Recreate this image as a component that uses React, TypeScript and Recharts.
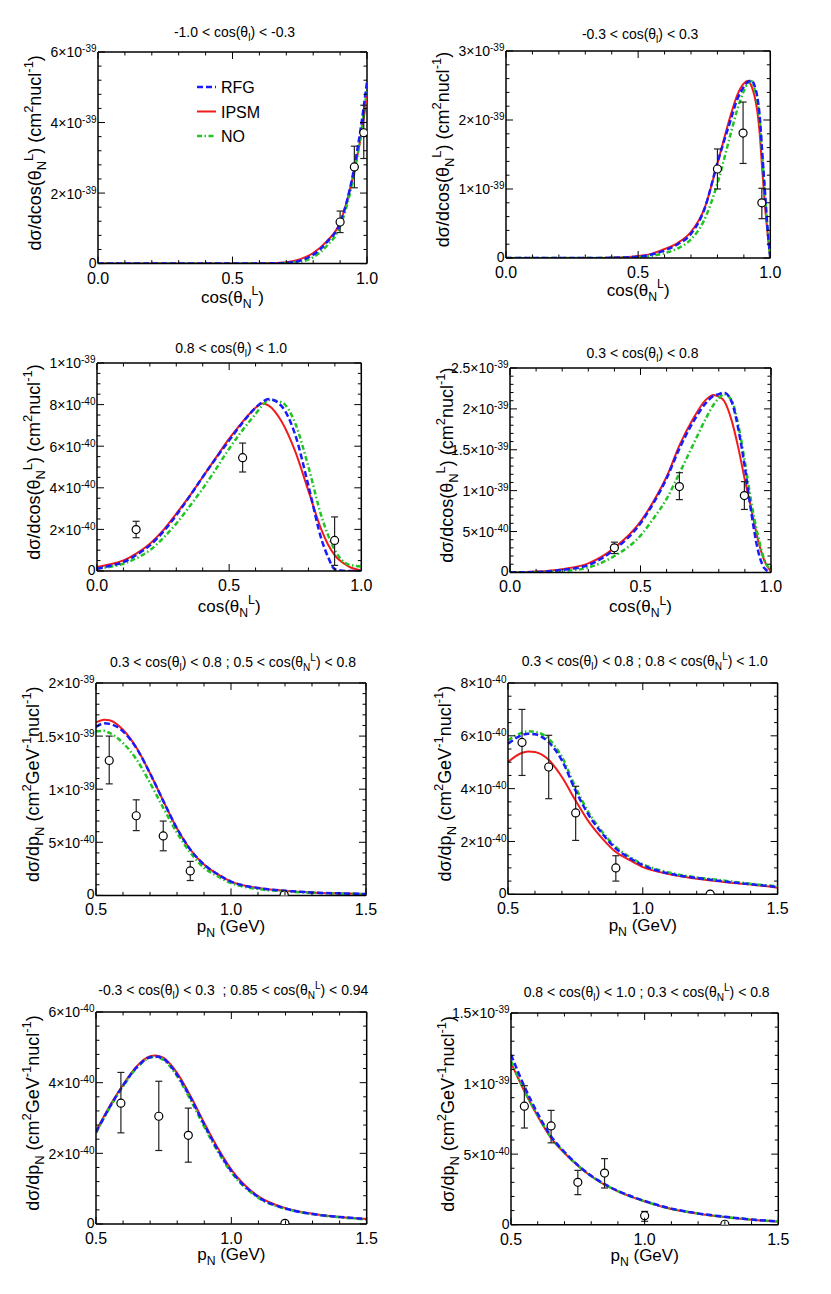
import React from 'react';
import { ComposedChart, Line, Scatter, XAxis, YAxis, ErrorBar, Legend, Label, ReferenceLine } from 'recharts';

const FONT = '"Liberation Sans", Arial, Helvetica, sans-serif';

type Seg = { t: string; k?: 'sub' | 'sup' };

// ---------- series styles ----------
const SERIES: Record<string, { name: string; color: string; w: number; dash?: string }> = {
  rfg: { name: 'RFG', color: '#1a1aff', w: 2.5, dash: '6 3' },
  ipsm: { name: 'IPSM', color: '#f01c1c', w: 2, dash: undefined },
  no: { name: 'NO', color: '#22c422', w: 2.5, dash: '5 2.5 1.5 2.5' },
};
const LEGEND_ORDER = ['rfg', 'ipsm', 'no'];

// ---------- shared tick labels ----------
const cosXTicks = [0, 0.5, 1.0];
const cosXLabels = ['0.0', '0.5', '1.0'];
const pXTicks = [0.5, 1.0, 1.5];
const pXLabels = ['0.5', '1.0', '1.5'];

// ---------- Panel 1: -1.0 < cos(theta_l) < -0.3 (units 1e-39) ----------
const p1Grid = [0, 0.1, 0.2, 0.3, 0.4, 0.5, 0.6, 0.65, 0.7, 0.75, 0.8, 0.85, 0.9, 0.95, 0.975, 1.0];
const p1RFG = [0, 0, 0, 0, 0, 0, 0.003, 0.008, 0.02, 0.08, 0.25, 0.6, 1.15, 2.62, 3.75, 5.15];
const p1IPSM = [0, 0, 0, 0, 0, 0.001, 0.005, 0.015, 0.04, 0.12, 0.3, 0.63, 1.17, 2.55, 3.5, 4.75];
const p1NO = [0, 0, 0, 0, 0, 0, 0.002, 0.005, 0.012, 0.05, 0.18, 0.5, 1.05, 2.47, 3.55, 4.98];
const p1PtX = [0.9, 0.953, 0.988];
const p1PtY = [1.18, 2.74, 3.71];
const p1PtLo = [0.88, 2.15, 2.98];
const p1PtHi = [1.49, 3.33, 4.49];
const p1YTicks = [0, 2, 4, 6];
const p1YLabels = [['0', ''], ['2×10', '-39'], ['4×10', '-39'], ['6×10', '-39']];

// ---------- Panel 2: -0.3 < cos(theta_l) < 0.3 (units 1e-39) ----------
const p2Grid = [0, 0.1, 0.2, 0.3, 0.4, 0.45, 0.5, 0.55, 0.6, 0.65, 0.7, 0.75, 0.8, 0.85, 0.875, 0.9, 0.915, 0.93, 0.94, 0.95, 0.96, 0.97, 0.98, 0.99, 1.0];
const p2RFG = [0, 0, 0, 0, 0.003, 0.008, 0.02, 0.05, 0.11, 0.2, 0.35, 0.7, 1.38, 2.0, 2.3, 2.48, 2.55, 2.57, 2.5, 2.35, 2.05, 1.5, 0.95, 0.4, 0];
const p2IPSM = [0, 0, 0, 0, 0.005, 0.012, 0.03, 0.06, 0.13, 0.22, 0.38, 0.71, 1.37, 2.07, 2.36, 2.53, 2.57, 2.48, 2.35, 2.15, 1.8, 1.25, 0.75, 0.35, 0];
const p2NO = [0, 0, 0, 0, 0.002, 0.005, 0.012, 0.03, 0.07, 0.14, 0.27, 0.55, 1.08, 1.8, 2.15, 2.42, 2.53, 2.56, 2.45, 2.3, 2.0, 1.45, 0.9, 0.4, 0];
const p2PtX = [0.8, 0.897, 0.968];
const p2PtY = [1.29, 1.81, 0.8];
const p2PtLo = [1.0, 1.37, 0.57];
const p2PtHi = [1.58, 2.26, 1.01];
const p2YTicks = [0, 1, 2, 3];
const p2YLabels = [['0', ''], ['1×10', '-39'], ['2×10', '-39'], ['3×10', '-39']];

// ---------- Panel 3: 0.8 < cos(theta_l) < 1.0 (units 1e-40) ----------
const p3Grid = [0, 0.05, 0.1, 0.15, 0.2, 0.25, 0.3, 0.35, 0.4, 0.45, 0.5, 0.55, 0.6, 0.625, 0.65, 0.7, 0.75, 0.8, 0.85, 0.875, 0.9, 0.95, 1.0];
const p3RFG = [0.11, 0.25, 0.43, 0.78, 1.23, 1.88, 2.68, 3.58, 4.52, 5.42, 6.28, 7.12, 7.85, 8.12, 8.27, 7.9, 6.55, 4.1, 1.5, 0.65, 0.08, 0, 0];
const p3IPSM = [0.19, 0.32, 0.51, 0.85, 1.31, 1.95, 2.76, 3.6, 4.52, 5.45, 6.36, 7.16, 7.85, 8.05, 7.95, 7.15, 5.75, 3.85, 1.95, 1.25, 0.75, 0.24, 0.03];
const p3NO = [0.11, 0.2, 0.35, 0.62, 1.0, 1.58, 2.28, 3.1, 3.96, 4.9, 5.88, 6.76, 7.55, 7.95, 8.22, 8.1, 7.1, 5.0, 2.6, 1.7, 1.0, 0.32, 0.22];
const p3PtX = [0.148, 0.551, 0.899];
const p3PtY = [1.99, 5.45, 1.47];
const p3PtLo = [1.6, 4.76, 0.27];
const p3PtHi = [2.39, 6.15, 2.6];
const p3YTicks = [0, 2, 4, 6, 8, 10];
const p3YLabels = [['0', ''], ['2×10', '-40'], ['4×10', '-40'], ['6×10', '-40'], ['8×10', '-40'], ['1×10', '-39']];

// ---------- Panel 4: 0.3 < cos(theta_l) < 0.8 (units 1e-39) ----------
const p4Grid = [0, 0.1, 0.2, 0.3, 0.4, 0.5, 0.55, 0.6, 0.65, 0.7, 0.75, 0.78, 0.8, 0.82, 0.85, 0.875, 0.9, 0.925, 0.95, 0.975, 1.0];
const p4RFG = [0, 0.005, 0.03, 0.09, 0.28, 0.6, 0.85, 1.15, 1.52, 1.83, 2.07, 2.16, 2.18, 2.2, 2.08, 1.75, 1.28, 0.72, 0.27, 0.05, 0];
const p4IPSM = [0, 0.01, 0.04, 0.11, 0.3, 0.62, 0.87, 1.17, 1.56, 1.87, 2.11, 2.17, 2.15, 2.1, 1.85, 1.52, 1.13, 0.77, 0.4, 0.14, 0.01];
const p4NO = [0, 0.003, 0.015, 0.06, 0.2, 0.45, 0.66, 0.9, 1.22, 1.55, 1.88, 2.05, 2.13, 2.18, 2.1, 1.8, 1.35, 0.85, 0.45, 0.15, 0.03];
const p4PtX = [0.4, 0.649, 0.898];
const p4PtY = [0.3, 1.05, 0.94];
const p4PtLo = [0.23, 0.89, 0.77];
const p4PtHi = [0.37, 1.22, 1.11];
const p4YTicks = [0, 0.5, 1, 1.5, 2, 2.5];
const p4YLabels = [['0', ''], ['5×10', '-40'], ['1×10', '-39'], ['1.5×10', '-39'], ['2×10', '-39'], ['2.5×10', '-39']];

// ---------- Panel 5: p_N, 0.3<cos(theta_l)<0.8 ; 0.5<cos(theta_N^L)<0.8 (units 1e-39) ----------
const p5Grid = [0.5, 0.53, 0.55, 0.6, 0.65, 0.7, 0.75, 0.8, 0.85, 0.9, 0.95, 1.0, 1.1, 1.2, 1.3, 1.4, 1.5];
const p5RFG = [1.585, 1.62, 1.615, 1.545, 1.385, 1.15, 0.885, 0.63, 0.43, 0.29, 0.2, 0.13, 0.07, 0.044, 0.028, 0.019, 0.013];
const p5IPSM = [1.63, 1.655, 1.65, 1.56, 1.39, 1.15, 0.885, 0.63, 0.43, 0.29, 0.2, 0.13, 0.07, 0.044, 0.028, 0.019, 0.013];
const p5NO = [1.545, 1.55, 1.53, 1.435, 1.28, 1.06, 0.82, 0.59, 0.4, 0.26, 0.18, 0.116, 0.06, 0.038, 0.025, 0.017, 0.013];
const p5PtX = [0.549, 0.649, 0.749, 0.849, 1.197];
const p5PtY = [1.27, 0.75, 0.56, 0.23, 0.005];
const p5PtLo = [1.05, 0.61, 0.42, 0.14, 0.0];
const p5PtHi = [1.5, 0.9, 0.7, 0.32, 0.01];
const p5YTicks = [0, 0.5, 1, 1.5, 2];
const p5YLabels = [['0', ''], ['5×10', '-40'], ['1×10', '-39'], ['1.5×10', '-39'], ['2×10', '-39']];

// ---------- Panel 6: p_N, 0.3<cos(theta_l)<0.8 ; 0.8<cos(theta_N^L)<1.0 (units 1e-40) ----------
const p6Grid = [0.5, 0.55, 0.575, 0.6, 0.65, 0.7, 0.75, 0.8, 0.85, 0.9, 0.95, 1.0, 1.1, 1.2, 1.3, 1.4, 1.5];
const p6RFG = [5.7, 6.02, 6.08, 6.06, 5.77, 5.07, 3.94, 2.99, 2.3, 1.73, 1.38, 1.1, 0.78, 0.62, 0.49, 0.38, 0.28];
const p6IPSM = [5.01, 5.35, 5.41, 5.39, 5.1, 4.44, 3.56, 2.74, 2.11, 1.6, 1.3, 1.03, 0.76, 0.59, 0.47, 0.37, 0.25];
const p6NO = [5.83, 6.11, 6.17, 6.15, 5.89, 5.2, 4.06, 3.08, 2.36, 1.79, 1.42, 1.14, 0.82, 0.64, 0.52, 0.4, 0.3];
const p6PtX = [0.552, 0.651, 0.751, 0.9, 1.25];
const p6PtY = [5.75, 4.82, 3.08, 1.0, 0.01];
const p6PtLo = [4.5, 3.62, 2.04, 0.5, 0.0];
const p6PtHi = [7.0, 6.02, 4.09, 1.46, 0.03];
const p6YTicks = [0, 2, 4, 6, 8];
const p6YLabels = [['0', ''], ['2×10', '-40'], ['4×10', '-40'], ['6×10', '-40'], ['8×10', '-40']];

// ---------- Panel 7: p_N, -0.3<cos(theta_l)<0.3 ; 0.85<cos(theta_N^L)<0.94 (units 1e-40) ----------
const p7Grid = [0.5, 0.55, 0.6, 0.65, 0.7, 0.72, 0.75, 0.8, 0.85, 0.9, 0.95, 1.0, 1.1, 1.2, 1.3, 1.4, 1.5];
const p7RFG = [2.6, 3.3, 3.92, 4.43, 4.72, 4.74, 4.67, 4.22, 3.56, 2.81, 2.1, 1.5, 0.76, 0.44, 0.28, 0.2, 0.14];
const p7IPSM = [2.62, 3.33, 3.94, 4.46, 4.75, 4.77, 4.7, 4.27, 3.61, 2.86, 2.15, 1.54, 0.78, 0.45, 0.29, 0.2, 0.14];
const p7NO = [2.58, 3.28, 3.9, 4.41, 4.71, 4.73, 4.64, 4.18, 3.5, 2.75, 2.05, 1.46, 0.74, 0.43, 0.28, 0.19, 0.13];
const p7PtX = [0.592, 0.732, 0.841, 1.198];
const p7PtY = [3.42, 3.05, 2.51, 0.02];
const p7PtLo = [2.58, 2.08, 1.75, 0.0];
const p7PtHi = [4.29, 4.04, 3.28, 0.04];
const p7YTicks = [0, 2, 4, 6];
const p7YLabels = [['0', ''], ['2×10', '-40'], ['4×10', '-40'], ['6×10', '-40']];

// ---------- Panel 8: p_N, 0.8<cos(theta_l)<1.0 ; 0.3<cos(theta_N^L)<0.8 (units 1e-39) ----------
const p8Grid = [0.5, 0.55, 0.6, 0.65, 0.7, 0.75, 0.8, 0.85, 0.9, 1.0, 1.1, 1.2, 1.3, 1.4, 1.5];
const p8RFG = [1.205, 0.98, 0.787, 0.626, 0.515, 0.422, 0.347, 0.287, 0.24, 0.168, 0.114, 0.08, 0.056, 0.037, 0.023];
const p8IPSM = [1.146, 0.945, 0.768, 0.614, 0.508, 0.418, 0.343, 0.283, 0.236, 0.165, 0.111, 0.078, 0.054, 0.035, 0.021];
const p8NO = [1.158, 0.952, 0.772, 0.618, 0.51, 0.42, 0.345, 0.285, 0.238, 0.166, 0.112, 0.079, 0.055, 0.036, 0.022];
const p8PtX = [0.55, 0.65, 0.75, 0.85, 1.0, 1.3];
const p8PtY = [0.84, 0.7, 0.3, 0.366, 0.064, 0.003];
const p8PtLo = [0.685, 0.58, 0.213, 0.26, 0.024, 0.0];
const p8PtHi = [0.985, 0.81, 0.385, 0.468, 0.094, 0.006];
const p8YTicks = [0, 0.5, 1, 1.5];
const p8YLabels = [['0', ''], ['5×10', '-40'], ['1×10', '-39'], ['1.5×10', '-39']];

// ---------- texts ----------
const subL: Seg[] = [{ t: 'l', k: 'sub' }];
const NL: Seg[] = [{ t: 'N', k: 'sub' }, { t: 'L', k: 'sup' }];
const cosYLab: Seg[] = [{ t: 'dσ/dcos(θ' }, ...NL, { t: ') (cm' }, { t: '2', k: 'sup' }, { t: 'nucl' }, { t: '-1', k: 'sup' }, { t: ')' }];
const pYLab: Seg[] = [{ t: 'dσ/dp' }, { t: 'N', k: 'sub' }, { t: ' (cm' }, { t: '2', k: 'sup' }, { t: 'GeV' }, { t: '-1', k: 'sup' }, { t: 'nucl' }, { t: '-1', k: 'sup' }, { t: ')' }];
const cosXLab: Seg[] = [{ t: 'cos(θ' }, ...NL, { t: ')' }];
const pXLab: Seg[] = [{ t: 'p' }, { t: 'N', k: 'sub' }, { t: ' (GeV)' }];

const t1: Seg[] = [{ t: '-1.0 < cos(θ' }, ...subL, { t: ') < -0.3' }];
const t2: Seg[] = [{ t: '-0.3 < cos(θ' }, ...subL, { t: ') < 0.3' }];
const t3: Seg[] = [{ t: '0.8 < cos(θ' }, ...subL, { t: ') < 1.0' }];
const t4: Seg[] = [{ t: '0.3 < cos(θ' }, ...subL, { t: ') < 0.8' }];
const t5: Seg[] = [{ t: '0.3 < cos(θ' }, ...subL, { t: ') < 0.8 ; 0.5 < cos(θ' }, ...NL, { t: ') < 0.8' }];
const t6: Seg[] = [{ t: '0.3 < cos(θ' }, ...subL, { t: ') < 0.8 ; 0.8 < cos(θ' }, ...NL, { t: ') < 1.0' }];
const t7: Seg[] = [{ t: '-0.3 < cos(θ' }, ...subL, { t: ') < 0.3  ; 0.85 < cos(θ' }, ...NL, { t: ') < 0.94' }];
const t8: Seg[] = [{ t: '0.8 < cos(θ' }, ...subL, { t: ') < 1.0 ; 0.3 < cos(θ' }, ...NL, { t: ') < 0.8' }];

// ---------- layout ----------
const ML = 80, MT = 45, MR = 20, MB = 55;

type PanelCfg = {
  box: [number, number, number, number]; // left, top, right, bottom of plot area on page
  xDomain: [number, number]; xTicks: number[]; xLabels: string[];
  yMax: number; yTicks: number[]; yLabels: string[][]; yMinor: number;
  grid: number[]; rfg: number[]; ipsm: number[]; no: number[];
  ptX: number[]; ptY: number[]; ptLo: number[]; ptHi: number[];
  title: Seg[]; titleGap: number; xLab: Seg[]; xLabGap: number; yLab: Seg[];
  legend?: boolean;
};

const PANELS: PanelCfg[] = [
  { box: [97.7, 51.7, 366.7, 263.3], xDomain: [0, 1], xTicks: cosXTicks, xLabels: cosXLabels, yMax: 6, yTicks: p1YTicks, yLabels: p1YLabels, yMinor: 0.4,
    grid: p1Grid, rfg: p1RFG, ipsm: p1IPSM, no: p1NO, ptX: p1PtX, ptY: p1PtY, ptLo: p1PtLo, ptHi: p1PtHi, title: t1, titleGap: 15, xLab: cosXLab, xLabGap: 39, yLab: cosYLab, legend: true },
  { box: [505.7, 50.7, 770, 257.7], xDomain: [0, 1], xTicks: cosXTicks, xLabels: cosXLabels, yMax: 3, yTicks: p2YTicks, yLabels: p2YLabels, yMinor: 0.2,
    grid: p2Grid, rfg: p2RFG, ipsm: p2IPSM, no: p2NO, ptX: p2PtX, ptY: p2PtY, ptLo: p2PtLo, ptHi: p2PtHi, title: t2, titleGap: 12, xLab: cosXLab, xLabGap: 38, yLab: cosYLab },
  { box: [96.7, 362.7, 361, 570.7], xDomain: [0, 1], xTicks: cosXTicks, xLabels: cosXLabels, yMax: 10, yTicks: p3YTicks, yLabels: p3YLabels, yMinor: 0.5,
    grid: p3Grid, rfg: p3RFG, ipsm: p3IPSM, no: p3NO, ptX: p3PtX, ptY: p3PtY, ptLo: p3PtLo, ptHi: p3PtHi, title: t3, titleGap: 10, xLab: cosXLab, xLabGap: 41, yLab: cosYLab },
  { box: [510, 368.3, 771, 572.7], xDomain: [0, 1], xTicks: cosXTicks, xLabels: cosXLabels, yMax: 2.5, yTicks: p4YTicks, yLabels: p4YLabels, yMinor: 0.1,
    grid: p4Grid, rfg: p4RFG, ipsm: p4IPSM, no: p4NO, ptX: p4PtX, ptY: p4PtY, ptLo: p4PtLo, ptHi: p4PtHi, title: t4, titleGap: 10, xLab: cosXLab, xLabGap: 40, yLab: cosYLab },
  { box: [95.7, 683.3, 365.7, 895.7], xDomain: [0.5, 1.5], xTicks: pXTicks, xLabels: pXLabels, yMax: 2, yTicks: p5YTicks, yLabels: p5YLabels, yMinor: 0.1,
    grid: p5Grid, rfg: p5RFG, ipsm: p5IPSM, no: p5NO, ptX: p5PtX, ptY: p5PtY, ptLo: p5PtLo, ptHi: p5PtHi, title: t5, titleGap: 16, xLab: pXLab, xLabGap: 37, yLab: pYLab },
  { box: [507.7, 682.7, 777.3, 894], xDomain: [0.5, 1.5], xTicks: pXTicks, xLabels: pXLabels, yMax: 8, yTicks: p6YTicks, yLabels: p6YLabels, yMinor: 0.5,
    grid: p6Grid, rfg: p6RFG, ipsm: p6IPSM, no: p6NO, ptX: p6PtX, ptY: p6PtY, ptLo: p6PtLo, ptHi: p6PtHi, title: t6, titleGap: 17, xLab: pXLab, xLabGap: 37, yLab: pYLab },
  { box: [96, 1012.3, 366.7, 1224.3], xDomain: [0.5, 1.5], xTicks: pXTicks, xLabels: pXLabels, yMax: 6, yTicks: p7YTicks, yLabels: p7YLabels, yMinor: 0.4,
    grid: p7Grid, rfg: p7RFG, ipsm: p7IPSM, no: p7NO, ptX: p7PtX, ptY: p7PtY, ptLo: p7PtLo, ptHi: p7PtHi, title: t7, titleGap: 17, xLab: pXLab, xLabGap: 36, yLab: pYLab },
  { box: [511, 1013.3, 778.3, 1225], xDomain: [0.5, 1.5], xTicks: pXTicks, xLabels: pXLabels, yMax: 1.5, yTicks: p8YTicks, yLabels: p8YLabels, yMinor: 0.1,
    grid: p8Grid, rfg: p8RFG, ipsm: p8IPSM, no: p8NO, ptX: p8PtX, ptY: p8PtY, ptLo: p8PtLo, ptHi: p8PtHi, title: t8, titleGap: 16, xLab: pXLab, xLabGap: 36, yLab: pYLab },
];

// ---------- helpers ----------
function steps(a: number, b: number, s: number): number[] {
  const n = Math.round((b - a) / s);
  return Array.from({ length: n + 1 }, (_, i) => +(a + i * s).toFixed(6));
}
function majorIndex(v: number, majors: number[]) {
  return majors.findIndex((m) => Math.abs(m - v) < 1e-6);
}

function RichText({ segs, size, x, y, anchor = 'middle', transform }: { segs: Seg[]; size: number; x: number; y: number; anchor?: string; transform?: string }) {
  let cur = 0;
  return (
    <text x={x} y={y} fontSize={size} fontFamily={FONT} fill="#000" textAnchor={anchor} transform={transform} style={{ whiteSpace: 'pre' }}>
      {segs.map((s, i) => {
        const target = s.k === 'sub' ? size * 0.3 : s.k === 'sup' ? -size * 0.45 : 0;
        const dy = target - cur;
        cur = target;
        return (
          <tspan key={i} dy={dy} fontSize={s.k ? size * 0.72 : size}>
            {s.t}
          </tspan>
        );
      })}
    </text>
  );
}

const XTick = (props: any) => {
  const { x, y, payload, majors, labels, ph } = props;
  const idx = majorIndex(payload.value, majors);
  const len = idx >= 0 ? 7 : 3.5;
  return (
    <g>
      <line x1={x} x2={x} y1={y} y2={y - len} stroke="#000" strokeWidth={1} />
      <line x1={x} x2={x} y1={y - ph} y2={y - ph + len} stroke="#000" strokeWidth={1} />
      {idx >= 0 && (
        <text x={x} y={y + 20} textAnchor="middle" fontSize={16} fontFamily={FONT} fill="#000">
          {labels[idx]}
        </text>
      )}
    </g>
  );
};

const YTick = (props: any) => {
  const { x, y, payload, majors, labels, pw } = props;
  const idx = majorIndex(payload.value, majors);
  const len = idx >= 0 ? 7 : 3.5;
  const lab = idx >= 0 ? labels[idx] : null;
  const isZero = lab && !lab[1];
  return (
    <g>
      <line x1={x} x2={x + len} y1={y} y2={y} stroke="#000" strokeWidth={1} />
      <line x1={x + pw} x2={x + pw - len} y1={y} y2={y} stroke="#000" strokeWidth={1} />
      {lab && (
        <text x={x - 1.5} y={y + (isZero ? 4 : 5.5)} textAnchor="end" fontSize={14} fontFamily={FONT} fill="#000">
          <tspan>{lab[0]}</tspan>
          {lab[1] && (
            <tspan dy={-5} fontSize={10}>
              {lab[1]}
            </tspan>
          )}
        </text>
      )}
    </g>
  );
};

const LegendBox = (props: any) => {
  const payload: any[] = props.payload || [];
  return (
    <svg width={110} height={80} style={{ display: 'block' }}>
      {LEGEND_ORDER.map((k, i) => {
        const s = SERIES[k];
        const entry = payload.find((e) => e.dataKey === k);
        const name = entry ? entry.value : s.name;
        const by = 22 + i * 24.5;
        return (
          <g key={k}>
            <line x1={4} x2={23} y1={by - 6} y2={by - 6} stroke={s.color} strokeWidth={s.w} strokeDasharray={s.dash} />
            <text x={28} y={by} fontSize={16} fontFamily={FONT} fill="#000">
              {name}
            </text>
          </g>
        );
      })}
    </svg>
  );
};

function Panel({ c }: { c: PanelCfg }) {
  const [l, t, r, b] = c.box;
  const pw = r - l;
  const ph = b - t;
  const W = pw + ML + MR;
  const H = ph + MT + MB;
  const data = c.grid.map((x, i) => ({ x, rfg: c.rfg[i], ipsm: c.ipsm[i], no: c.no[i] }));
  const pts = c.ptX.map((x, i) => ({ x, y: c.ptY[i], err: [c.ptY[i] - c.ptLo[i], c.ptHi[i] - c.ptY[i]] }));
  const xt = steps(c.xDomain[0], c.xDomain[1], 0.1);
  const yt = steps(0, c.yMax, c.yMinor);
  const cx = ML + pw / 2;

  const seriesLine = (k: string) => {
    const s = SERIES[k];
    return (
      <Line
        key={k}
        type="monotone"
        dataKey={k}
        name={s.name}
        stroke={s.color}
        strokeWidth={s.w}
        strokeDasharray={s.dash}
        dot={false}
        activeDot={false}
        isAnimationActive={false}
      />
    );
  };

  return (
    <div style={{ position: 'absolute', left: l - ML, top: t - MT, width: W, height: H }}>
      <ComposedChart width={W} height={H} data={data} margin={{ top: MT, right: MR, bottom: MB - 1, left: ML - 1 }}>
        <XAxis
          type="number"
          dataKey="x"
          domain={c.xDomain}
          allowDataOverflow
          ticks={xt}
          interval={0}
          height={1}
          tickSize={0}
          tickMargin={0}
          tickLine={false}
          axisLine={{ stroke: '#000', strokeWidth: 1.5 }}
          tick={(p: any) => <XTick {...p} majors={c.xTicks} labels={c.xLabels} ph={ph} />}
        >
          <Label
            content={() => (
              <g>
                <RichText segs={c.title} size={14} x={cx + 2} y={MT - c.titleGap} />
                <RichText segs={c.xLab} size={17} x={cx} y={MT + ph + c.xLabGap} />
              </g>
            )}
          />
        </XAxis>
        <YAxis
          type="number"
          domain={[0, c.yMax]}
          allowDataOverflow
          ticks={yt}
          interval={0}
          width={1}
          tickSize={0}
          tickMargin={0}
          tickLine={false}
          axisLine={{ stroke: '#000', strokeWidth: 1.5 }}
          tick={(p: any) => <YTick {...p} majors={c.yTicks} labels={c.yLabels} pw={pw} />}
        >
          <Label
            content={() => {
              const lx = ML - 57;
              const ly = MT + ph / 2 - 5;
              return <RichText segs={c.yLab} size={18} x={lx} y={ly} transform={`rotate(-90 ${lx} ${ly})`} />;
            }}
          />
        </YAxis>
        <ReferenceLine y={c.yMax} stroke="#000" strokeWidth={1.5} ifOverflow="visible" />
        <ReferenceLine x={c.xDomain[1]} stroke="#000" strokeWidth={1.5} ifOverflow="visible" />
        {seriesLine('ipsm')}
        {seriesLine('no')}
        {seriesLine('rfg')}
        <Scatter
          data={pts}
          dataKey="y"
          isAnimationActive={false}
          legendType="none"
          shape={(p: any) => <circle cx={p.cx} cy={p.cy} r={4} fill="#fff" stroke="#000" strokeWidth={1.2} />}
        >
          <ErrorBar dataKey="err" direction="y" width={3.5} stroke="#222" strokeWidth={1.2} />
        </Scatter>
        {c.legend && (
          <Legend
            layout="vertical"
            align="center"
            verticalAlign="middle"
            wrapperStyle={{ left: 175, top: 64, width: 110, height: 80 }}
            content={(lp: any) => <LegendBox payload={lp.payload} />}
          />
        )}
      </ComposedChart>
    </div>
  );
}

export default function App() {
  return (
    <div style={{ position: 'absolute', left: 0, top: 0, width: 831, height: 1294, background: '#fff', overflow: 'hidden' }}>
      {PANELS.map((c, i) => (
        <Panel key={i} c={c} />
      ))}
    </div>
  );
}
